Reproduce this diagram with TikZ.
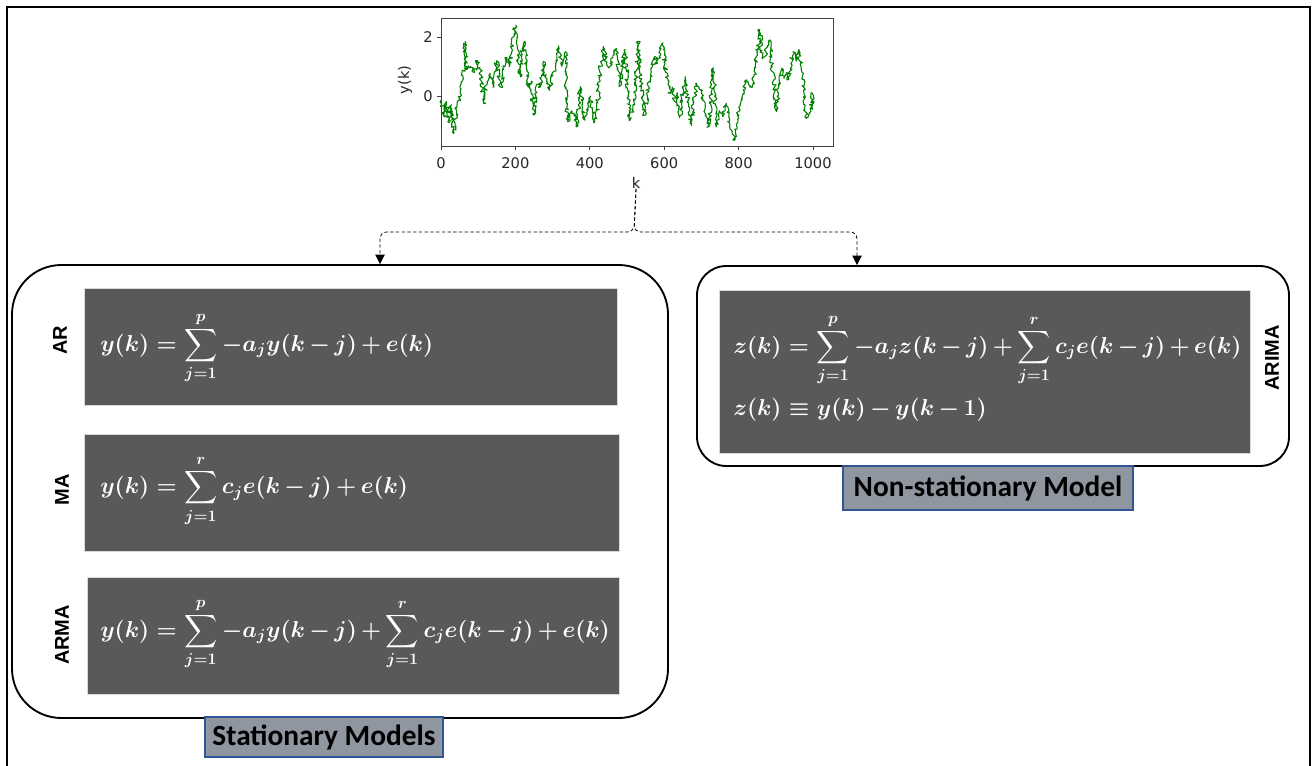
\documentclass[tikz,border=0pt]{standalone}
\usepackage{amsmath}
\usepackage{fontspec}
\newfontfamily\labfont{Liberation Sans}
\newfontfamily\calfont{Carlito}
\newfontfamily\tickfont{DejaVu Sans}
\usetikzlibrary{arrows.meta,decorations.pathmorphing}
\DeclareMathSizes{17.5}{17.5}{13}{9.5}
\newcommand\tightmath{\medmuskip=3mu plus 2mu minus 3mu\relax}
\definecolor{eqgray}{HTML}{595959}
\definecolor{tagfill}{HTML}{8F96A0}
\definecolor{tagedge}{HTML}{2F5597}
\definecolor{plotgreen}{HTML}{008000}
\definecolor{axisgray}{HTML}{404040}
\begin{document}
\begin{tikzpicture}[x=0.75pt,y=-0.75pt,
  eqbox/.style={fill=eqgray,draw=white!85!black,line width=0.4pt,inner sep=0pt},
  group/.style={draw=black,line width=1.4pt,inner sep=0pt},
  tag/.style={fill=tagfill,draw=tagedge,line width=1pt,inner sep=0pt,font=\calfont\bfseries\fontsize{22}{24}\selectfont},
  model/.style={font=\labfont\bfseries\fontsize{15}{18}\selectfont,rotate=90,inner sep=0pt},
  eq/.style={text=white,font=\fontsize{17.5}{21}\selectfont\boldmath\tightmath,inner sep=0pt,anchor=west},
  tick/.style={font=\tickfont\fontsize{11}{13}\selectfont,text=black!85,inner sep=0pt},
  conn/.style={draw=black,line width=0.6pt,dash pattern=on 2.5pt off 1.8pt,rounded corners=5pt,-{Triangle[width=7pt,length=7pt]}}
]
\useasboundingbox (0,0) rectangle (1313,766);
\fill[white] (0,0) rectangle (1313,766);
\draw[line width=1.5pt] (7,766) -- (7,7) -- (1310,7) -- (1310,766);

% plot
\draw[axisgray,line width=0.6pt] (441,18) rectangle (833,146);
\foreach \k in {0,200,400,600,800,1000} {
  \draw[axisgray,line width=0.6pt] (441+0.372*\k,146) -- ++(0,4);
  \node[tick] (xt\k) at (441+0.372*\k,163) {\k};
}
\draw[axisgray,line width=0.6pt] (441,96) -- ++(-4,0);
\draw[axisgray,line width=0.6pt] (441,37) -- ++(-4,0);
\node[tick] (yt0) at (428,96) {0};
\node[tick] (yt2) at (428,37) {2};
\node[tick,rotate=90] (ylab) at (405,80) {y(k)};
\node[tick] (klab) at (636,183) {k};

\begin{scope}[shift={(441,96)},x=0.279pt,y=22.125pt]
\pgfmathsetseed{42}
\draw[plotgreen,line width=0.8pt,line join=round,decorate,decoration={random steps,segment length=1.2pt,amplitude=1.6pt}] plot coordinates {
(0,-0.14) (8,-0.7) (14,-0.2) (22,-0.9) (28,-0.3) (34,-1.27) (42,-0.5) (52,0.2) (58,0.7) (65,1.85) (70,0.9) (80,1.0) (90,0.8) (98,1.2) (105,0.9) (115,-0.25) (124,0.5) (132,0.77) (140,0.3) (150,1.2) (160,0.3) (168,0.9) (177,1.3) (184,1.0) (190,1.45) (196,2.1) (201,2.4) (207,1.2) (213,0.65) (218,1.6) (224,1.85) (230,0.9) (235,0.3) (242,0.5) (250,-0.65) (258,0.4) (266,0.3) (275,1.17) (284,0.5) (293,0.2) (300,0.8) (309,0.9) (316,1.7) (325,1.0) (334,1.5) (340,-0.87) (350,-0.5) (358,-0.6) (365,-1.05) (374,0.32) (380,-0.4) (387,-0.82) (395,-0.2) (402,0) (410,-0.9) (419,-0.76) (427,0.8) (436,1.68) (445,1.1) (454,1.0) (462,1.3) (472,1.62) (479,0.32) (487,0.9) (495,1.57) (502,0.2) (508,-0.82) (515,-0.5) (521,-0.14) (530,1.85) (537,0.5) (543,-0.3) (548,-0.65) (556,0.2) (565,0.8) (575,1.34) (582,1.1) (589,1.57) (597,1.8) (604,0.8) (610,0.4) (615,0.1) (622,0.3) (630,-0.2) (636,0.1) (642,-0.7) (650,0.1) (656,0.66) (664,-0.2) (673,-1.0) (680,-0.2) (687,0.43) (694,0.3) (700,0.1) (708,-0.5) (718,-1.05) (725,-0.3) (732,0.94) (736,0.0) (740,-1.05) (748,-0.5) (757,-0.7) (767,-0.25) (775,-0.9) (783,-1.2) (790,-1.5) (797,-0.8) (803,-0.36) (812,0.2) (821,0.55) (830,0.3) (839,0.43) (845,1.0) (851,1.5) (857,2.25) (863,1.3) (870,1.34) (877,1.7) (884,1.9) (890,1.0) (896,0.3) (902,-0.53) (908,0.3) (915,0.94) (922,0.6) (928,0.8) (933,0.55) (940,1.1) (946,1.5) (954,1.2) (962,1.57) (970,0.8) (975,0.2) (978,-0.36) (982,-0.76) (990,-0.6) (995,-0.42) (997,0.1) (999,-0.42)};
\end{scope}

% groups
\node[group,rounded corners=37pt,minimum width=492pt,minimum height=339.75pt] (stat) at (340,491.5) {};
\node[group,rounded corners=22pt,minimum width=444pt,minimum height=150pt] (nonstat) at (993,366) {};

% equation boxes
\node[eqbox,minimum width=399.75pt,minimum height=87.75pt] (arbox) at (350.5,346.5) {};
\node[eqbox,minimum width=401.25pt,minimum height=87.75pt] (mabox) at (351.5,492.5) {};
\node[eqbox,minimum width=399pt,minimum height=87.75pt] (armabox) at (353,635.5) {};
\node[eqbox,minimum width=398.25pt,minimum height=122.25pt] (arimabox) at (984.5,371.5) {};

\node[eq] (areq) at (100,348) {$\displaystyle y(k) = \sum_{j=1}^{p} -a_j y(k-j) + e(k)$};
\node[eq] (maeq) at (100,491) {$\displaystyle y(k) = \sum_{j=1}^{r} c_j e(k-j) + e(k)$};
\node[eq] (armaeq) at (100,634) {$\displaystyle y(k) = \sum_{j=1}^{p} -a_j y(k-j) + \sum_{j=1}^{r} c_j e(k-j) + e(k)$};
\node[eq] (arimaeq) at (733,350) {$\displaystyle z(k) = \sum_{j=1}^{p} -a_j z(k-j) + \sum_{j=1}^{r} c_j e(k-j) + e(k)$};
\node[eq] (zdef) at (733,410) {$z(k) \equiv y(k) - y(k-1)$};

% model labels
\node[model] (arlab) at (60,340) {AR};
\node[model] (malab) at (62,490) {MA};
\node[model] (armalab) at (62,635) {ARMA};
\node[model] (arimalab) at (1272,358) {ARIMA};

% tags
\node[tag,minimum width=178.5pt,minimum height=30pt] (stattag) at (324,737) {Stationary Models};
\node[tag,minimum width=217.5pt,minimum height=33pt] (nstag) at (988,488) {Non-stationary Model};

% connectors
\coordinate (split) at (634,232);
\draw[conn] (klab.south) -- (split) -| ([xshift=30pt]stat.north);
\draw[conn] (klab.south) -- (split) -| ([xshift=-102pt]nonstat.north);
\end{tikzpicture}
\end{document}
